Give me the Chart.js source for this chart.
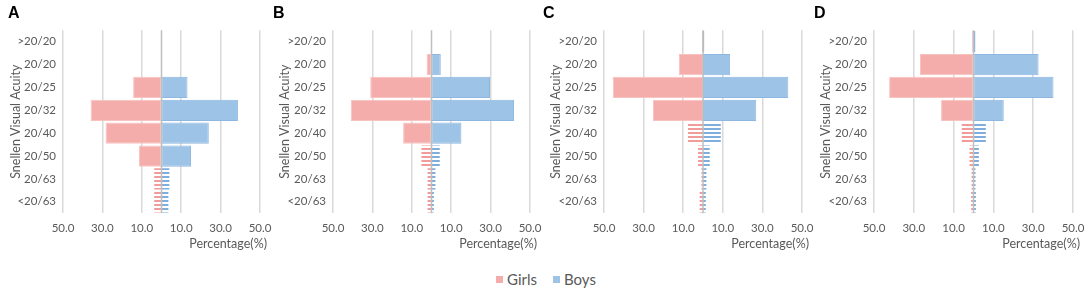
<!DOCTYPE html>
<html>
<head>
<meta charset="utf-8">
<script src="https://cdn.jsdelivr.net/npm/chart.js@4/dist/chart.umd.min.js"></script>
<style>
  html,body{margin:0;padding:0;background:#fff;}
  #wrap{position:relative;width:1084px;height:290px;overflow:hidden;}
  .panel{position:absolute;top:0;height:256px;width:290px;}
  .legend{position:absolute;top:270px;left:496px;display:flex;align-items:center;font-family:Lato,sans-serif;font-size:15px;color:#595959;white-space:nowrap;}
  .legend span.sw{display:inline-block;width:7px;height:7px;margin-right:4px;}
  .legend span.item{display:flex;align-items:center;margin-right:16px;}
</style>
</head>
<body>
<div id="wrap">
  <div class="panel" style="left:0px"><canvas id="cA"></canvas></div>
  <div class="panel" style="left:270px"><canvas id="cB"></canvas></div>
  <div class="panel" style="left:541px"><canvas id="cC"></canvas></div>
  <div class="panel" style="left:811px"><canvas id="cD"></canvas></div>
  <div class="legend"><span class="item"><span class="sw" style="background:#F5ADAB"></span>Girls</span><span class="item"><span class="sw" style="background:#9DC3E6"></span>Boys</span></div>
</div>
<script>
// ---- data ----
const categories = ['>20/20','20/20','20/25','20/32','20/40','20/50','20/63','<20/63'];
const xTickValues = [-50,-30,-10,10,30,50];
const panelLabels = ['A','B','C','D'];
const xTitle = 'Percentage(%)';
const yTitle = 'Snellen Visual Acuity';

const girlsA = [0, 0, 14.4, 36.0, 28.4, 11.5, 3.7, 3.7];
const boysA  = [0, 0.3, 13.2, 38.8, 24.0, 15.0, 4.0, 3.5];
const girlsB = [0, 2.5, 31.1, 41.0, 14.4, 5.1, 2.0, 2.0];
const boysB  = [0, 4.7, 29.7, 41.9, 15.2, 4.2, 2.0, 1.2];
const girlsC = [0.5, 12.2, 45.6, 25.3, 7.6, 2.5, 0.8, 1.7];
const boysC  = [0.7, 13.7, 43.1, 26.9, 9.0, 3.4, 1.7, 1.4];
const girlsD = [0.7, 26.9, 42.4, 16.3, 5.9, 2.0, 1.0, 1.2];
const boysD  = [1.0, 32.7, 40.2, 15.2, 6.2, 2.7, 1.0, 1.2];
// index of first category drawn with striped fill, per panel
const stripedFrom = [6, 5, 4, 4];

// ---- styles ----
const PINK = '#F5ADAB', PINK_BORDER = '#F7C3C1', PINK_STRIPE = '#F29C9A';
const BLUE = '#9DC3E6', BLUE_BORDER = '#8DB7E0', BLUE_STRIPE = '#7FADDC';
const TXT = '#595959';
const FONT = 'Lato, "Open Sans", sans-serif';

function stripePattern(color){
  const c = document.createElement('canvas');
  c.width = 4; c.height = 4;
  const g = c.getContext('2d');
  g.fillStyle = '#ffffff'; g.fillRect(0,0,4,4);
  g.fillStyle = color; g.fillRect(0,0,4,2);
  return g.createPattern(c,'repeat');
}
const pinkStripe = stripePattern(PINK_STRIPE);
const blueStripe = stripePattern(BLUE_STRIPE);

const centerLine = {
  id:'centerLine',
  afterDatasetsDraw(chart){
    const x = chart.scales.x.getPixelForValue(0);
    const a = chart.chartArea, ctx = chart.ctx;
    ctx.save();
    ctx.strokeStyle = '#BFBFBF'; ctx.lineWidth = 1.5;
    ctx.beginPath(); ctx.moveTo(x, a.top); ctx.lineTo(x, a.bottom); ctx.stroke();
    ctx.restore();
  }
};

// x-axis title, right-aligned slightly past the plot's right edge (as in the source figure)
const xAxisTitle = {
  id:'xAxisTitle',
  afterDraw(chart){
    const a = chart.chartArea, ctx = chart.ctx;
    ctx.save();
    ctx.fillStyle = TXT;
    ctx.font = '12.5px ' + FONT;
    ctx.textAlign = 'right';
    ctx.textBaseline = 'middle';
    ctx.fillText(xTitle, a.right + 7, a.bottom + 31);
    ctx.restore();
  }
};

function makePanel(id, label, girls, boys, hatchFrom, padLeft, padRight){
  const solidOr = (solid, stripe) => (ctx) => ctx.dataIndex >= hatchFrom ? stripe : solid;
  const bw = (ctx) => ctx.dataIndex >= hatchFrom ? 0 : 1;
  new Chart(document.getElementById(id), {
    type:'bar',
    data:{
      labels: categories,
      datasets:[
        {label:'Girls', data: girls.map(v => -v), backgroundColor: solidOr(PINK, pinkStripe), borderColor: PINK_BORDER, borderWidth: bw, borderSkipped:false, barPercentage:0.93, categoryPercentage:1},
        {label:'Boys', data: boys, backgroundColor: solidOr(BLUE, blueStripe), borderColor: BLUE_BORDER, borderWidth: bw, borderSkipped:false, barPercentage:0.93, categoryPercentage:1}
      ]
    },
    options:{
      indexAxis:'y',
      responsive:true,
      maintainAspectRatio:false,
      animation:false,
      layout:{padding:{left:padLeft,right:padRight,top:0,bottom:13}},
      plugins:{
        legend:{display:false},
        tooltip:{enabled:false},
        title:{display:true, text:label, align:'start', color:'#000', font:{family:'Arial, "Liberation Sans", sans-serif', size:16, weight:'bold'}, padding:{top:4,bottom:7}}
      },
      scales:{
        x:{
          stacked:true, min:-50, max:50,
          afterBuildTicks(scale){ scale.ticks = xTickValues.map(v => ({value:v})); },
          afterFit(scale){ scale.paddingLeft = 0; scale.paddingRight = 0; },
          ticks:{callback:(v) => Math.abs(v).toFixed(1), color:TXT, font:{family:FONT, size:11.5}, padding:8, maxRotation:0, autoSkip:false},
          grid:{color:'#D9D9D9', lineWidth:1.5, drawTicks:false},
          border:{display:false},
          title:{display:false}
        },
        y:{
          stacked:true,
          afterFit(scale){ scale.width = 63 - padLeft; },
          ticks:{color:TXT, font:{family:FONT, size:11.5}, padding:7},
          grid:{display:false, drawTicks:false},
          border:{display:false},
          title:{display:true, text:yTitle, color:TXT, font:{family:FONT, size:12.5}, padding:{top:Math.max(0, 7.5 - padLeft), bottom:2}}
        }
      }
    },
    plugins:[centerLine, xAxisTitle]
  });
}

makePanel('cA', panelLabels[0], girlsA, boysA, stripedFrom[0], 8, 30);
makePanel('cB', panelLabels[1], girlsB, boysB, stripedFrom[1], 3, 30);
makePanel('cC', panelLabels[2], girlsC, boysC, stripedFrom[2], 2, 29);
makePanel('cD', panelLabels[3], girlsD, boysD, stripedFrom[3], 3, 28);
</script>
</body>
</html>
